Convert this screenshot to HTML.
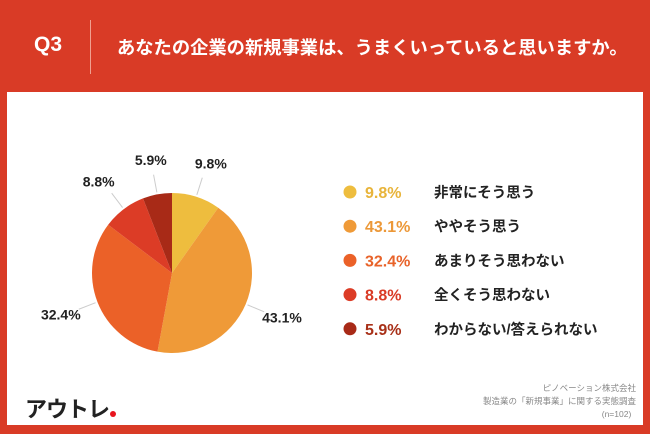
<!DOCTYPE html>
<html><head><meta charset="utf-8">
<style>
body{margin:0;width:650px;height:434px;background:#d93b26;font-family:"Liberation Sans","Noto Sans CJK JP",sans-serif;position:relative;overflow:hidden}
.q{position:absolute;left:34px;top:33px;color:#fff;font-weight:bold;font-size:21px}
.sep{position:absolute;left:90px;top:20px;width:1px;height:54px;background:#f0a090}
.title{position:absolute;left:117px;top:34px;color:#fff;font-weight:bold;font-size:18.3px;letter-spacing:0}
.panel{position:absolute;left:7px;top:92px;width:636px;height:333px;background:#fff}
.logo{position:absolute;left:25px;top:392px;font-size:22px;font-weight:bold;color:#222;letter-spacing:-1px}
.dot{display:inline-block;width:6px;height:6px;border-radius:50%;background:#e8141e;margin-left:1px}
.src{position:absolute;right:14px;top:382px;text-align:right;font-size:8.5px;color:#888;line-height:13px}
</style></head><body>
<div class="q">Q3</div>
<div class="sep"></div>
<div class="title">あなたの企業の新規事業は、うまくいっていると思いますか。</div>
<div class="panel"></div>
<svg id="chart" width="650" height="434" style="position:absolute;left:0;top:0"></svg>
<div class="logo">アウトレ<span class="dot"></span></div>
<div class="src">ピノベーション株式会社<br>製造業の「新規事業」に関する実態調査<br>(n=102)&nbsp;&nbsp;</div>
<script>
const categories=["非常にそう思う","ややそう思う","あまりそう思わない","全くそう思わない","わからない/答えられない"];
const values=[9.8,43.1,32.4,8.8,5.9];
const labels=["9.8%","43.1%","32.4%","8.8%","5.9%"];
const colors=["#eebd3e","#ef9a38","#eb6128","#dc3c26","#a82a17"];
const legendColors=["#eebd3e","#ef9a38","#eb6128","#dc3c26","#a82a17"];
const pctColors=["#e8b43a","#ec9838","#e8632a","#d93b26","#a83018"];
const svg=document.getElementById('chart');
const NS="http://www.w3.org/2000/svg";
const cx=172,cy=273,r=80;
const total=values.reduce((a,b)=>a+b,0);
function pt(a,rr){return [cx+rr*Math.sin(a),cy-rr*Math.cos(a)];}
let acc=0;
values.forEach((v,i)=>{
  const a0=acc/total*2*Math.PI; acc+=v; const a1=acc/total*2*Math.PI;
  const [x0,y0]=pt(a0,r),[x1,y1]=pt(a1,r);
  const p=document.createElementNS(NS,'path');
  p.setAttribute('d',`M${cx},${cy}L${x0},${y0}A${r},${r} 0 ${a1-a0>Math.PI?1:0} 1 ${x1},${y1}Z`);
  p.setAttribute('fill',colors[i]);
  
  
  svg.appendChild(p);
  const am=(a0+a1)/2;
  const [lx0,ly0]=pt(am,r+2),[lx1,ly1]=pt(am,r+20);
  const ln=document.createElementNS(NS,'line');
  ln.setAttribute('x1',lx0);ln.setAttribute('y1',ly0);ln.setAttribute('x2',lx1);ln.setAttribute('y2',ly1);
  ln.setAttribute('stroke','#ccc');ln.setAttribute('stroke-width','1');
  
  
  svg.appendChild(ln);
  const [tx,ty]=pt(am,r+35);
  const t=document.createElementNS(NS,'text');
  t.setAttribute('x',tx+(Math.sin(am)>0.3?4:Math.sin(am)<-0.3?-4:0));t.setAttribute('y',ty+5);
  t.setAttribute('text-anchor','middle');t.setAttribute('font-size','14');t.setAttribute('font-weight','bold');t.setAttribute('fill','#222');
  t.textContent=labels[i];
  
  
  svg.appendChild(t);
});
categories.forEach((c,i)=>{
  const y=192+i*34.2;
  const g=document.createElementNS(NS,'g');
  
  
  const ci=document.createElementNS(NS,'circle');
  ci.setAttribute('cx',350);ci.setAttribute('cy',y);ci.setAttribute('r',6.5);ci.setAttribute('fill',legendColors[i]);
  g.appendChild(ci);
  const t1=document.createElementNS(NS,'text');
  t1.setAttribute('x',365);t1.setAttribute('y',y+6);t1.setAttribute('font-size','16');t1.setAttribute('font-weight','bold');t1.setAttribute('fill',pctColors[i]);
  t1.textContent=labels[i];g.appendChild(t1);
  const t2=document.createElementNS(NS,'text');
  t2.setAttribute('x',434);t2.setAttribute('y',y+5.5);t2.setAttribute('font-size','14.5');t2.setAttribute('font-weight','bold');t2.setAttribute('fill','#222');
  t2.textContent=c;g.appendChild(t2);
  svg.appendChild(g);
});
</script>
</body></html>
